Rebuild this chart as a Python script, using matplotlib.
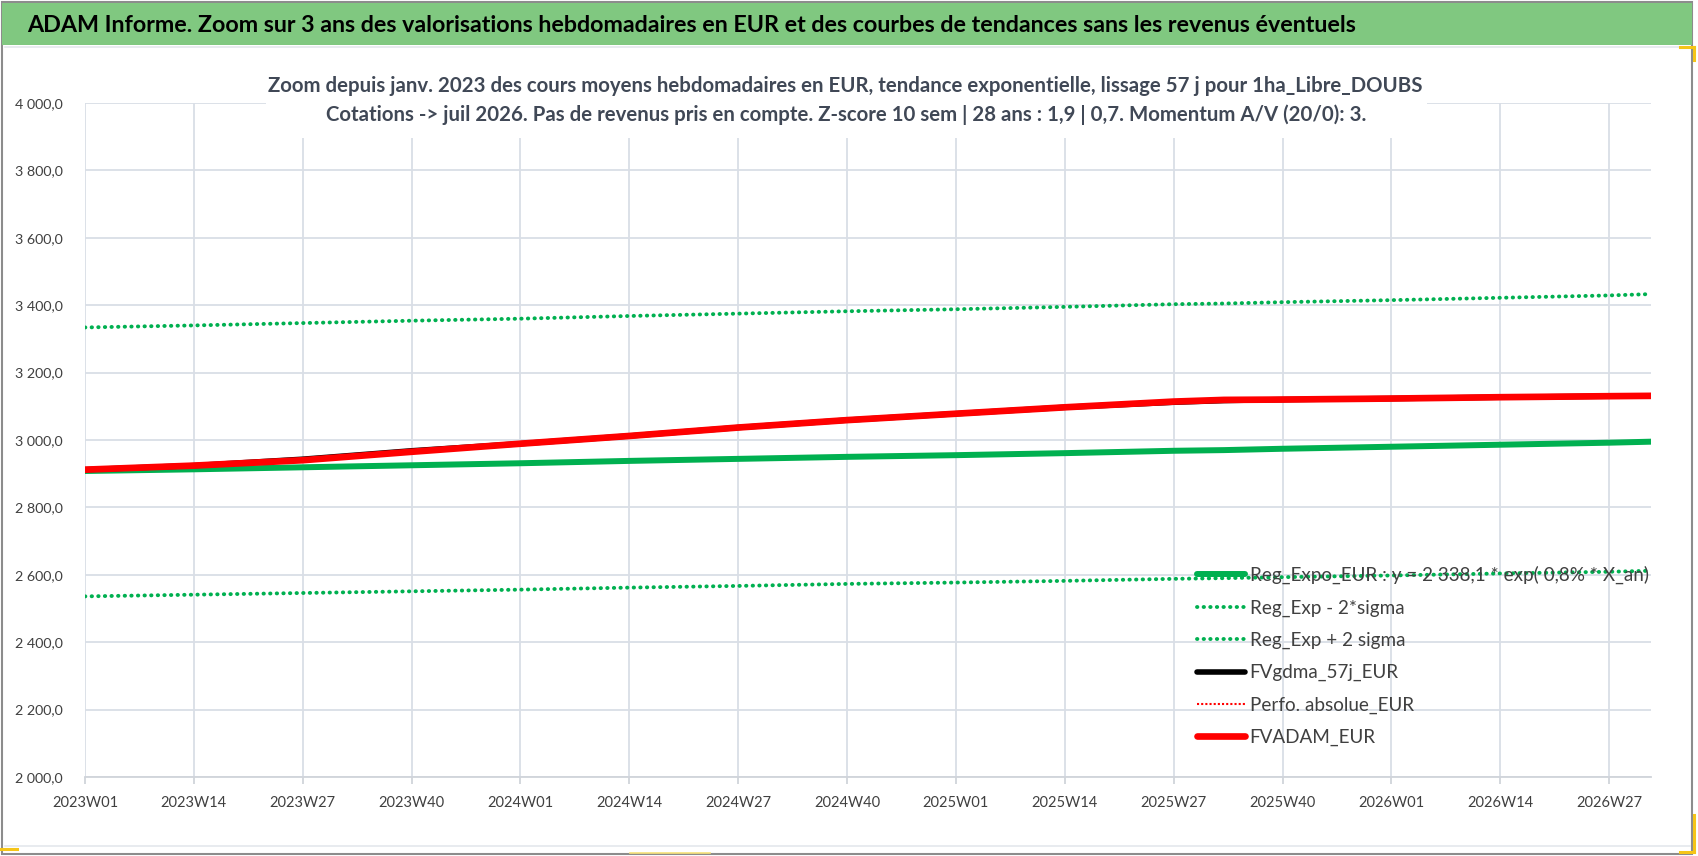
import matplotlib
matplotlib.use("Agg")
import matplotlib.pyplot as plt
from matplotlib import font_manager
from matplotlib.font_manager import FontProperties
from matplotlib.patches import Rectangle
from matplotlib.lines import Line2D
from matplotlib.ticker import FuncFormatter

# narrow font close to Calibri look (Liberation Narrow if present, else Lato)
names = {f.name for f in font_manager.fontManager.ttflist}
FONT = "DejaVu Sans"
for cand in ["Liberation Sans Narrow", "Lato", "Roboto"]:
    if cand in names:
        FONT = cand
        break
plt.rcParams['font.family'] = [FONT, 'DejaVu Sans']

# weekly categories 2023W01 .. 2026W32
weeks = []
for year, nweeks in [(2023, 52), (2024, 52), (2025, 52), (2026, 32)]:
    for w in range(1, nweeks + 1):
        weeks.append(f"{year}W{w:02d}")

tick_labels = ["2023W01", "2023W14", "2023W27", "2023W40", "2024W01", "2024W14",
               "2024W27", "2024W40", "2025W01", "2025W14", "2025W27", "2025W40",
               "2026W01", "2026W14", "2026W27"]

# values at these weeks
sample_weeks = ["2023W01", "2023W14", "2023W27", "2023W40", "2024W01", "2024W14",
                "2024W27", "2024W40", "2025W01", "2025W14", "2025W27", "2025W33",
                "2025W40", "2026W01", "2026W14", "2026W27", "2026W32"]
reg_expo = [2908, 2913, 2919, 2925, 2931, 2938, 2944, 2950, 2955, 2961, 2968, 2970,
            2974, 2980, 2986, 2992, 2995]
reg_minus = [2536, 2541, 2546, 2551, 2556, 2562, 2567, 2573, 2577, 2582, 2588, 2590,
             2593, 2598, 2604, 2609, 2612]
reg_plus = [3334, 3340, 3347, 3354, 3360, 3368, 3375, 3382, 3388, 3395, 3403, 3405,
            3409, 3415, 3422, 3429, 3433]
fvgdma = [2912, 2924, 2943, 2968, 2989, 3012, 3037, 3059, 3078, 3097, 3112, 3117,
          3120, 3123, 3127, 3130, 3131]
perfo = [2912, 2924, 2940, 2965, 2989, 3012, 3037, 3059, 3078, 3097, 3114, 3119,
         3120, 3123, 3127, 3130, 3131]
fvadam = [2912, 2924, 2940, 2965, 2989, 3012, 3037, 3059, 3078, 3097, 3114, 3119,
          3120, 3123, 3127, 3130, 3131]

labels = ["Reg_Expo_EUR : y = 2 338,1 * exp( 0,8% * X_an)", "Reg_Exp - 2*sigma",
          "Reg_Exp + 2 sigma", "FVgdma_57j_EUR", "Perfo. absolue_EUR", "FVADAM_EUR"]

title = ("ADAM Informe. Zoom sur 3 ans des valorisations hebdomadaires en EUR "
         "et des courbes de tendances sans les revenus éventuels")
sub1 = ("Zoom depuis janv. 2023 des cours moyens hebdomadaires en EUR, tendance "
        "exponentielle, lissage 57 j pour 1ha_Libre_DOUBS")
sub2 = ("Cotations -> juil 2026. Pas de revenus pris en compte. Z-score 10 sem | "
        "28 ans : 1,9 | 0,7. Momentum A/V (20/0): 3.")

GREEN = "#00B050"
GRID = "#D9DEE6"
TXT = "#404040"
W, H = 1698, 856

x = [weeks.index(w) for w in sample_weeks]

fig = plt.figure(figsize=(W / 100, H / 100), dpi=100)
renderer = fig.canvas.get_renderer()


def fit(s, target_px, weight="normal"):
    # font size (pt) so that the string is target_px wide
    prop = FontProperties(family=FONT, weight=weight, size=20)
    w, h, d = renderer.get_text_width_height_descent(s, prop, ismath=False)
    return 20 * target_px / w


# outer frame, green banner, light inner border
fig.patches.append(Rectangle((0.001, 0.002), 0.9955, 0.996, transform=fig.transFigure,
                             facecolor="white", edgecolor="#8C8C8C", lw=1.5, zorder=-10))
fig.patches.append(Rectangle((0.001, 1 - 45 / H), 0.9955, 42 / H, transform=fig.transFigure,
                             facecolor="#80C880", edgecolor="none", zorder=-9))
fig.lines.append(Line2D([0.003, 0.995], [1 - 47 / H, 1 - 47 / H], transform=fig.transFigure,
                        color="#E4E7EC", lw=1.2))
fig.lines.append(Line2D([0.003, 0.995], [1 - 846 / H, 1 - 846 / H], transform=fig.transFigure,
                        color="#E4E7EC", lw=1.2))
# yellow selection marks
yel = "#F5C518"
for xs, ys in [([0, 17], [849, 849]), ([1680, 1694], [47, 47]), ([1694, 1694], [47, 60]),
               ([1694, 1694], [815, 852]), ([1680, 1694], [852, 852])]:
    fig.lines.append(Line2D([v / W for v in xs], [1 - v / H for v in ys],
                            transform=fig.transFigure, color=yel, lw=2.2))
fig.lines.append(Line2D([630 / W, 710 / W], [1 - 853 / H, 1 - 853 / H],
                        transform=fig.transFigure, color="#F8E27A", lw=1.2))

fig.text(27 / W, 1 - 25 / H, title, fontsize=fit(title, 1336, "bold"), fontweight="bold",
         color="black", ha="left", va="center")

ax = fig.add_axes([85 / W, 1 - 777 / H, (1651 - 85) / W, (777 - 103) / H])

dot = (0, (0.1, 1.6))
l_minus, = ax.plot(x, reg_minus, color=GREEN, lw=2.8, ls=dot, dash_capstyle="round")
l_plus, = ax.plot(x, reg_plus, color=GREEN, lw=2.8, ls=dot, dash_capstyle="round")
l_reg, = ax.plot(x, reg_expo, color=GREEN, lw=4.3, solid_capstyle="round")
l_gdma, = ax.plot(x, fvgdma, color="black", lw=4.0, solid_capstyle="round")
l_perfo, = ax.plot(x, perfo, color="red", lw=1.5, ls=(0, (1, 1)))
l_adam, = ax.plot(x, fvadam, color="red", lw=4.8, solid_capstyle="round")

ax.set_xlim(0, len(weeks) - 1)
ax.set_ylim(2000, 4000)
ax.set_yticks(range(2000, 4001, 200))
ax.yaxis.set_major_formatter(FuncFormatter(
    lambda v, p: f"{v:,.1f}".replace(",", " ").replace(".", ",")))
ax.set_xticks([weeks.index(t) for t in tick_labels])
ax.set_xticklabels(tick_labels)

ax.grid(True, color=GRID, lw=1.3)
ax.set_axisbelow(True)
for s in ["top", "right", "left"]:
    ax.spines[s].set_visible(False)
ax.spines["bottom"].set_color("#D0D4DA")
ax.spines["bottom"].set_linewidth(1.3)
ax.tick_params(axis="x", colors="#D0D4DA", length=5, width=1.3, labelcolor=TXT,
               labelsize=fit("2023W01", 66), pad=9)
ax.tick_params(axis="y", length=0, labelcolor=TXT, labelsize=fit("2 200,0", 48), pad=16)

leg_fs = fit("Reg_Exp - 2*sigma", 154)
leg = ax.legend([l_reg, l_minus, l_plus, l_gdma, l_perfo, l_adam], labels,
                loc="upper left", bbox_to_anchor=(1197 / W, 1 - 566 / H),
                bbox_transform=fig.transFigure, frameon=False, fontsize=leg_fs,
                handlelength=48 / (leg_fs * 100 / 72), handletextpad=0.25,
                labelspacing=0.8, borderpad=0, borderaxespad=0)
for t in leg.get_texts():
    t.set_color(TXT)

# subtitle on a white box hiding the top gridlines
fig.patches.append(Rectangle((266 / W, 1 - 138 / H), (1427 - 266) / W, 68 / H,
                             transform=fig.transFigure, facecolor="white",
                             edgecolor="none", zorder=4))
sub_fs = fit(sub1, 1151, "bold")
fig.text(845 / W, 1 - 86 / H, sub1, fontsize=sub_fs, fontweight="bold", color="#404856",
         ha="center", va="center", zorder=5)
fig.text(846 / W, 1 - 115 / H, sub2, fontsize=sub_fs, fontweight="bold", color="#404856",
         ha="center", va="center", zorder=5)

fig.savefig("out.png", dpi=100)
